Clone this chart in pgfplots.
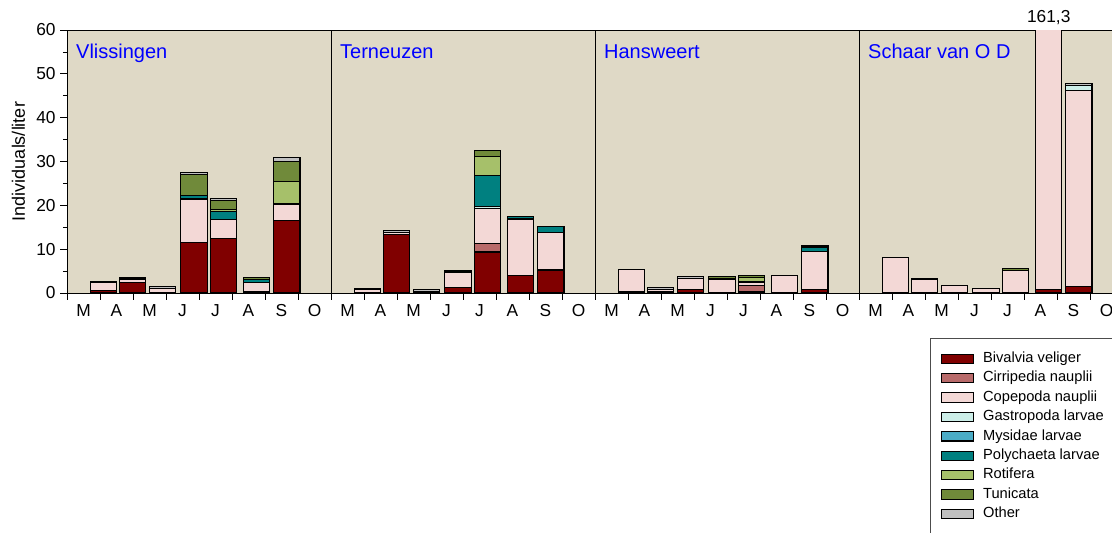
\documentclass[border=0pt]{standalone}
\usepackage{pgfplots}
\pgfplotsset{compat=1.18}
\usepackage{pgfplotstable}
\usepackage{fontspec}
\setmainfont{Liberation Sans}

\definecolor{bgc}{RGB}{223,217,198}
\definecolor{cbiv}{RGB}{128,0,0}
\definecolor{ccir}{RGB}{184,106,106}
\definecolor{ccop}{RGB}{243,216,214}
\definecolor{cgas}{RGB}{204,238,232}
\definecolor{cmys}{RGB}{75,172,198}
\definecolor{cpol}{RGB}{0,128,128}
\definecolor{crot}{RGB}{166,192,106}
\definecolor{ctun}{RGB}{112,138,58}
\definecolor{coth}{RGB}{192,192,192}

\pgfplotstableread{
x     biv   cir  cop    gas  mys pol  rot  tun  oth
1.10  0.5   0    2.0    0.1  0   0    0    0    0.1
1.99  2.5   0    0.7    0.3  0   0    0    0    0.1
2.90  0.2   0    0.9    0    0   0    0    0    0.3
3.85  11.5  0    9.8    0.2  0   0.7  0    4.8  0.4
4.74  12.4  0    4.3    0    0   1.8  0.5  2.0  0.6
5.75  0.3   0    2.2    0    0   0.5  0    0.6  0
6.66  16.5  0    3.6    0.2  0   0.2  4.9  4.6  1.0
9.10  0     0    0.9    0    0   0    0    0    0.2
9.99  13.4  0    0.5    0    0   0    0    0    0.3
10.90 0.1   0    0.2    0    0   0    0    0    0.4
11.85 1.2   0.1  3.4    0    0   0    0.2  0.3  0
12.74 9.35  1.9  7.95   0.6  0   7.0  4.4  1.3  0
13.75 3.95  0    12.75  0.2  0   0.65 0    0    0
14.66 5.25  0    8.65   0    0   1.2  0    0    0
17.10 0.35  0    4.95   0    0   0    0    0    0.1
17.99 0.4   0    0.5    0    0   0    0    0    0.3
18.90 0.85  0    2.55   0    0   0    0    0    0.3
19.85 0.1   0    2.9    0.4  0   0    0    0.4  0
20.74 0.35  1.35 0.7    0    0   0.2  1.0  0.3  0
21.75 0     0    3.9    0    0   0    0    0    0.1
22.66 0.75  0    8.75   0    0   1.0  0    0.2  0.2
25.10 0     0    8.1    0    0   0    0    0    0
25.99 0     0    3.2    0    0   0    0    0    0
26.90 0     0    1.75   0    0   0    0    0    0
27.85 0     0    1.05   0    0   0    0    0    0
28.74 0     0    5.15   0    0   0    0    0.5  0
29.75 0.7   0    160.6  0    0   0    0    0    0
30.66 1.4   0    44.8   1.2  0   0    0    0    0.3
}\data

\begin{document}
\begin{tikzpicture}
\useasboundingbox (-50.25pt,-179.25pt) rectangle (783.75pt,219.75pt);
\begin{axis}[
  at={(0,0)}, anchor=south west,
  scale only axis,
  width=792pt, height=197.25pt,
  xmin=0, xmax=32, ymin=0, ymax=60,
  enlarge x limits=false,
  ybar stacked, bar width=0.8,
  clip mode=individual,
  axis background/.style={fill=bgc},
  axis line style={black, line width=0.6pt},
  tick align=outside,
  major tick length=5pt, minor tick length=3pt,
  xtick pos=bottom, ytick pos=left,
  ytick={0,10,...,60}, minor y tick num=1,
  xtick={0,1,...,32},
  xticklabels={M,A,M,J,J,A,S,O,M,A,M,J,J,A,S,O,M,A,M,J,J,A,S,O,M,A,M,J,J,A,S,O,{}},
  x tick label style={xshift=12.375pt},
  tick style={black, line width=0.6pt},
  tick label style={font=\fontsize{13}{15}\selectfont},
  /pgf/number format/assume math mode=true,
  extra x ticks={8,16,24},
  extra x tick labels={},
  extra x tick style={grid=major, major grid style={black, line width=0.6pt}},
  ylabel={Individuals/liter},
  ylabel style={at={(axis description cs:-0.0459,0.5)}, anchor=center, font=\fontsize{13.5}{16}\selectfont},
  legend cell align=left,
  legend style={at={(axis description cs:0.8172,-0.1711)}, anchor=north west,
    draw=black!70, fill=white, line width=0.6pt,
    font=\fontsize{11}{13}\selectfont,
    nodes={inner sep=0pt, text height=8pt, text depth=2.5pt},
    row sep=4.05pt, column sep=6.75pt,
    inner xsep=8pt, inner ysep=10pt},
  legend image code/.code={\draw[#1, draw=black, line width=0.8pt] (0pt,-3.5pt) rectangle (24pt,3.5pt);},
  every axis plot/.append style={draw=black, line width=0.8pt},
]
\addplot[fill=cbiv] table[x=x,y=biv]{\data};
\addplot[fill=ccir] table[x=x,y=cir]{\data};
\addplot[fill=ccop] table[x=x,y=cop]{\data};
\addplot[fill=cgas] table[x=x,y=gas]{\data};
\addplot[fill=cmys] table[x=x,y=mys]{\data};
\addplot[fill=cpol] table[x=x,y=pol]{\data};
\addplot[fill=crot] table[x=x,y=rot]{\data};
\addplot[fill=ctun] table[x=x,y=tun]{\data};
\addplot[fill=coth] table[x=x,y=oth]{\data};
\legend{Bivalvia veliger, Cirripedia nauplii, Copepoda nauplii, Gastropoda larvae, Mysidae larvae, Polychaeta larvae, Rotifera, Tunicata, Other}

\node[anchor=base west, text=blue, font=\fontsize{15}{18}\selectfont, inner sep=0pt] at (axis cs:0.27,53.6) {Vlissingen};
\node[anchor=base west, text=blue, font=\fontsize{15}{18}\selectfont, inner sep=0pt] at (axis cs:8.27,53.6) {Terneuzen};
\node[anchor=base west, text=blue, font=\fontsize{15}{18}\selectfont, inner sep=0pt] at (axis cs:16.27,53.6) {Hansweert};
\node[anchor=base west, text=blue, font=\fontsize{15}{18}\selectfont, inner sep=0pt] at (axis cs:24.27,53.6) {Schaar van O D};
\node[anchor=base, font=\fontsize{13}{15}\selectfont, inner sep=0pt, yshift=5.5pt] at (axis cs:29.75,60) {161,3};
\end{axis}
\end{tikzpicture}
\end{document}
